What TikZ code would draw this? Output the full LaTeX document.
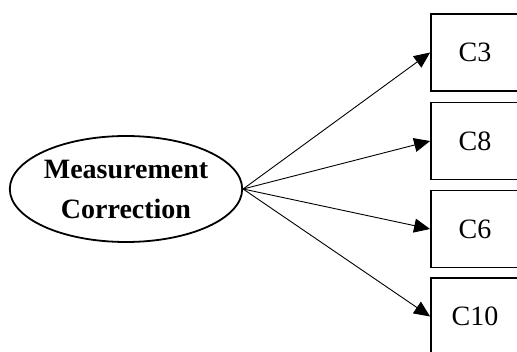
\documentclass[tikz,border=0pt]{standalone}
\usepackage{fontspec}
\setmainfont{Liberation Serif}
\usetikzlibrary{arrows.meta,positioning,shapes.geometric}

\begin{document}
\begin{tikzpicture}[x=1pt,y=-1pt,
  item/.style={draw,line width=1.8pt,minimum width=88pt,minimum height=77pt,
    inner sep=0pt,font=\fontsize{28}{30}\selectfont},
  factor/.style={draw,ellipse,line width=1.8pt,minimum width=228pt,minimum height=106pt,
    inner sep=0pt,align=center,font=\fontsize{28}{40}\selectfont\bfseries},
  arr/.style={-{Triangle[length=16pt,width=14pt]},line width=0.9pt}
]
  \useasboundingbox (0,0) rectangle (517,351);
  % Latent factor
  \node[factor] (mc) at (126,189) {Measurement\\Correction};
  % Indicators
  \node[item] (c3) at (475,52.5) {C3};
  \node[item] (c8) at (475,141) {C8};
  \node[item] (c6) at (475,229) {C6};
  \node[item] (c10) at (475,316.5) {C10};
  % Loadings
  \foreach \n in {c3,c8,c6,c10}
    \draw[arr] (mc.east) -- (\n.west);
\end{tikzpicture}
\end{document}
